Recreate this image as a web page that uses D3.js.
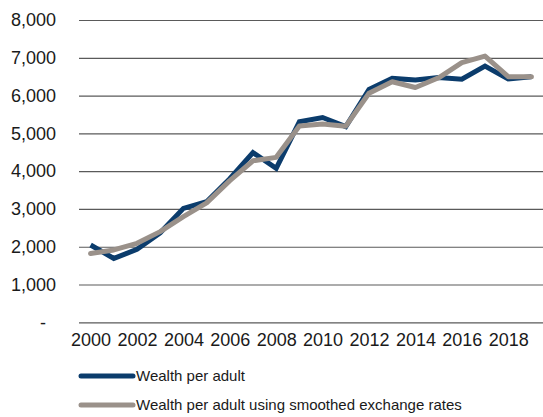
<!DOCTYPE html>
<html>
<head>
<meta charset="utf-8">
<script src="https://cdn.jsdelivr.net/npm/d3@7"></script>
<style>
    body { margin: 0; background: #ffffff; }
    svg { display: block; font-family: "Liberation Sans", Arial, sans-serif; }
    .axis path { display: none; }
    .axis text { fill: #1a1a1a; font-size: 18px; }
    .y-axis line { stroke: #5a5a5a; stroke-width: 1.2px; }
    .legend text { fill: #1a1a1a; font-size: 15px; }
</style>
</head>
<body>
<svg></svg>
<script>
// DATA
var years = [2000, 2001, 2002, 2003, 2004, 2005, 2006, 2007, 2008, 2009,
             2010, 2011, 2012, 2013, 2014, 2015, 2016, 2017, 2018, 2019];
var wealth_per_adult = [2045, 1690, 1930, 2370, 3015, 3190, 3800, 4490, 4075, 5305,
                        5420, 5180, 6165, 6455, 6410, 6480, 6435, 6780, 6440, 6500];
var wealth_smoothed = [1820, 1915, 2090, 2400, 2795, 3160, 3750, 4275, 4365, 5195,
                       5245, 5190, 6060, 6365, 6215, 6470, 6870, 7045, 6500, 6500];
var x_tick_years = [2000, 2002, 2004, 2006, 2008, 2010, 2012, 2014, 2016, 2018];
var y_tick_values = [0, 1000, 2000, 3000, 4000, 5000, 6000, 7000, 8000];
var y_tick_labels = ["-", "1,000", "2,000", "3,000", "4,000", "5,000", "6,000", "7,000", "8,000"];
var series_names = ["Wealth per adult", "Wealth per adult using smoothed exchange rates"];

var color_blue = "#0b3c6c";
var color_gray = "#9a918a";

// SETUP
var width = 543,
    height = 417,
    margin = { top: 20, right: 0, bottom: 95, left: 79 };

var svg = d3.select("svg")
    .attr("width", width)
    .attr("height", height);

var x = d3.scalePoint()
    .domain(years)
    .range([margin.left, width - margin.right])
    .padding(0.5);

var y = d3.scaleLinear()
    .domain([0, 8000])
    .range([height - margin.bottom + 0.3, margin.top]);

//Y axis with gridlines
svg.append("g")
    .attr("class", "axis y-axis")
    .attr("transform", "translate(" + margin.left + ",0)")
    .call(d3.axisLeft(y)
        .tickValues(y_tick_values)
        .tickSize(-(width - margin.left - margin.right))
        .tickPadding(23)
        .tickFormat(function (d, i) { return y_tick_labels[i]; }))
    .selectAll("text")
    .attr("dx", function (d) { return d === 0 ? "-10px" : 0; });

//X axis labels
svg.append("g")
    .attr("class", "axis x-axis")
    .attr("transform", "translate(0," + y(0) + ")")
    .call(d3.axisBottom(x)
        .tickValues(x_tick_years)
        .tickSize(0)
        .tickPadding(11));

// LINES
var line = d3.line()
    .x(function (d, i) { return x(years[i]); })
    .y(function (d) { return y(d); });

svg.append("path")
    .datum(wealth_per_adult)
    .attr("fill", "none")
    .attr("stroke", color_blue)
    .attr("stroke-width", 5)
    .attr("stroke-linejoin", "miter")
    .attr("d", line);

svg.append("path")
    .datum(wealth_smoothed)
    .attr("fill", "none")
    .attr("stroke", color_gray)
    .attr("stroke-width", 5)
    .attr("stroke-linecap", "round")
    .attr("stroke-linejoin", "round")
    .attr("d", line);

// LEGEND
var legend = svg.append("g")
    .attr("class", "legend")
    .selectAll("g")
    .data(series_names)
    .enter().append("g")
    .attr("transform", function (d, i) { return "translate(0," + (376 + i * 29) + ")"; });

legend.append("line")
    .attr("x1", 81)
    .attr("x2", 133)
    .attr("stroke", function (d, i) { return i === 0 ? color_blue : color_gray; })
    .attr("stroke-width", 5)
    .attr("stroke-linecap", "round");

legend.append("text")
    .attr("x", 136)
    .attr("dy", "0.35em")
    .text(function (d) { return d; });
</script>
</body>
</html>
